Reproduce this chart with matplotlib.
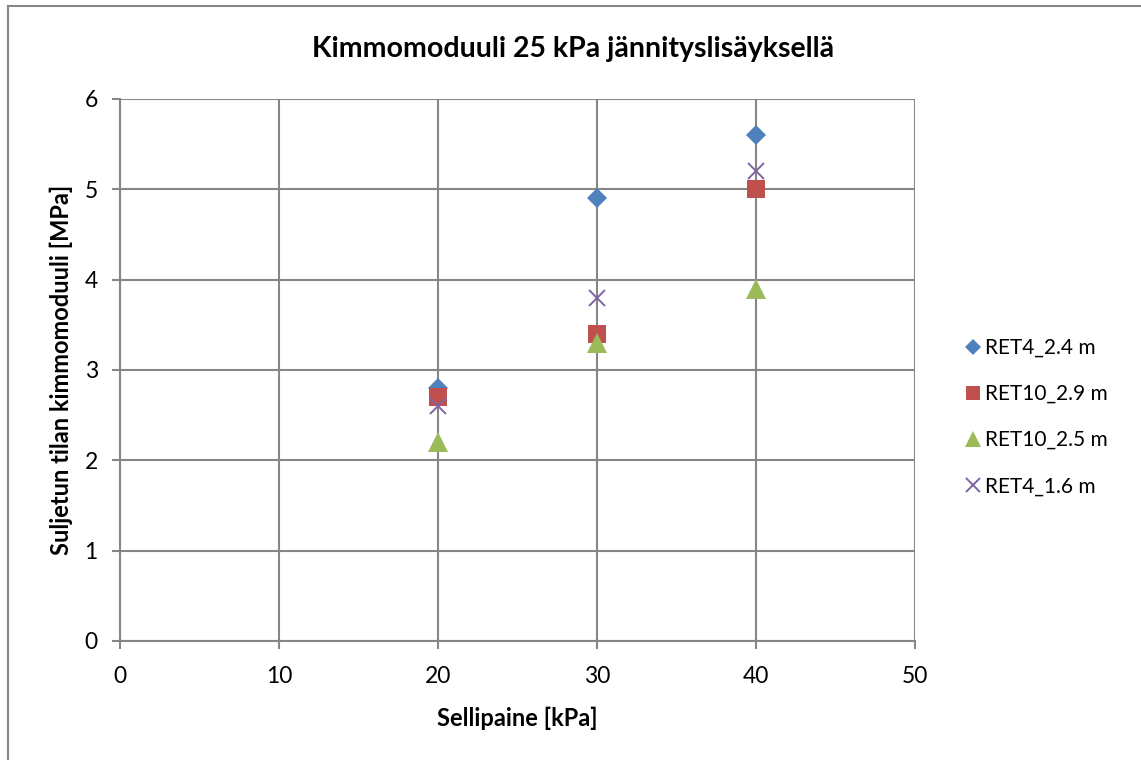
import matplotlib.pyplot as plt
from matplotlib.lines import Line2D

plt.rcParams['font.family'] = ['Lato', 'DejaVu Sans']

# Sellipaine [kPa]
sellipaine = [20, 30, 40]

# Kimmomoduuli [MPa] sarjoittain
ret4_24 = [2.8, 4.9, 5.6]
ret10_29 = [2.7, 3.4, 5.0]
ret10_25 = [2.2, 3.3, 3.9]
ret4_16 = [2.6, 3.8, 5.2]

nimet = ["RET4_2.4 m", "RET10_2.9 m", "RET10_2.5 m", "RET4_1.6 m"]

fig = plt.figure(figsize=(11.41, 7.6), dpi=100)
ax = fig.add_axes([0.1052, 0.1566, 0.6968, 0.7132])

ax.plot(sellipaine, ret4_24, linestyle='none', marker='D', markersize=10,
        color='#4F81BD', markeredgewidth=0, label=nimet[0])
ax.plot(sellipaine, ret10_29, linestyle='none', marker='s', markersize=13,
        color='#C0504D', markeredgewidth=0, label=nimet[1])
ax.plot(sellipaine, ret10_25, linestyle='none', marker='^', markersize=15,
        color='#9BBB59', markeredgewidth=0, label=nimet[2])
ax.plot(sellipaine, ret4_16, linestyle='none', marker='x', markersize=12,
        color='#8064A2', markeredgewidth=1.4, label=nimet[3])

ax.set_xlim(0, 50)
ax.set_ylim(0, 6)
ax.set_xticks(range(0, 51, 10))
ax.set_yticks(range(0, 7))
ax.grid(True, color='#868686', linewidth=1.5)
ax.set_axisbelow(True)
for s in ['top', 'right']:
    ax.spines[s].set_visible(False)
for s in ['left', 'bottom']:
    ax.spines[s].set_color('#868686')
    ax.spines[s].set_linewidth(1.5)
ax.tick_params(axis='both', colors='#868686', width=1.5, length=6,
               labelcolor='black', labelsize=16.5)
ax.tick_params(axis='x', pad=12)
ax.tick_params(axis='y', pad=10)

ax.set_title("Kimmomoduuli 25 kPa jännityslisäyksellä", fontsize=20.5,
             fontweight='bold', pad=30, x=0.57)
ax.set_xlabel("Sellipaine [kPa]", fontsize=17, fontweight='bold', labelpad=14)
ax.set_ylabel("Suljetun tilan kimmomoduuli [MPa]", fontsize=17,
              fontweight='bold', labelpad=8)

leg = ax.legend(loc='center left', bbox_to_anchor=(1.04, 0.413), frameon=False,
                fontsize=15, handlelength=0.7, handletextpad=0.25,
                labelspacing=1.25, markerscale=0.8)

# kehys vasemmalle ja ylös
fig.add_artist(Line2D([8 / 1141, 8 / 1141], [0, 1 - 6 / 760],
                      color='#868686', linewidth=1.5))
fig.add_artist(Line2D([8 / 1141, 1], [1 - 6 / 760, 1 - 6 / 760],
                      color='#868686', linewidth=1.5))

fig.savefig('out.png', dpi=100)
